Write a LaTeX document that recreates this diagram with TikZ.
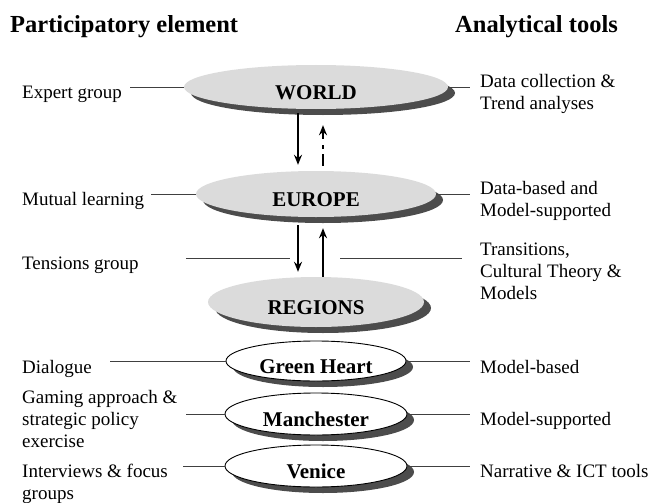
\documentclass[tikz,border=0pt]{standalone}
\usepackage{fontspec}
\setmainfont{Liberation Serif}
\usetikzlibrary{positioning,shapes.geometric,shadows,calc,arrows.meta}

\definecolor{platefill}{gray}{0.86}
\definecolor{platedark}{gray}{0.3}

\tikzset{
  plate/.style={ellipse, inner sep=0pt, fill=platefill,
    text height=25pt, text depth=0pt,
    font=\fontsize{21}{24}\selectfont\bfseries,
    drop shadow={shadow xshift=7pt, shadow yshift=-6pt, fill=platedark, opacity=1}},
  case/.style={plate, fill=white, draw=black, line width=0.9pt},
  lbl/.style={inner sep=0pt, align=left, anchor=base west,
    font=\fontsize{19}{22}\selectfont},
  head/.style={inner sep=0pt, anchor=base west,
    font=\fontsize{24.5}{28}\selectfont\bfseries},
  link/.style={draw=black!75, line width=1pt},
  flow/.style={-{Stealth[length=10pt,width=8pt]}, line width=1.6pt},
}

\begin{document}
\begin{tikzpicture}[x=1pt, y=-1pt, on grid]
\useasboundingbox (0,0) rectangle (653,503);

% column heads
\node[head] (ptitle) at (10,33) {Participatory element};
\node[head] (atitle) at (455,33) {Analytical tools};

% levels
\node[plate, minimum width=264pt, minimum height=44pt] (world) at (316,87) {WORLD};
\node[plate, minimum width=240pt, minimum height=46pt] (europe) [below=107pt of world] {EUROPE};
\node[plate, minimum width=216pt, minimum height=50pt] (regions) [below=108pt of europe] {REGIONS};
\node[case, minimum width=180pt, minimum height=40pt] (green) [below=59pt of regions] {Green Heart};
\node[case, minimum width=182pt, minimum height=42pt] (manch) [below=53pt of green] {Manchester};
\node[case, minimum width=182pt, minimum height=42pt] (venice) [below=52pt of manch] {Venice};

% participatory side (base = last line)
\node[lbl] (expert) at (22,99) {Expert group};
\node[lbl] (mutual) at (22,205) {Mutual learning};
\node[lbl] (tension) at (22,269) {Tensions group};
\node[lbl] (dialog) at (22,373) {Dialogue};
\node[lbl] (gaming) at (22,447) {Gaming approach \&\\strategic policy\\exercise};
\node[lbl] (interv) at (22,499) {Interviews \& focus\\groups};

% analytical side
\node[lbl] (trend) at (480,109) {Data collection \&\\Trend analyses};
\node[lbl] (databased) at (480,216) {Data-based and\\Model-supported};
\node[lbl] (transit) at (480,299) {Transitions,\\Cultural Theory \&\\Models};
\node[lbl] (modbased) at (480,373) {Model-based};
\node[lbl] (modsupp) at (480,425) {Model-supported};
\node[lbl] (narrat) at (480,477) {Narrative \& ICT tools};

% leader lines
\draw[link] (world.west) -- ($(world.west -| expert.east)+(8,0)$);
\draw[link] (world.east) -- ($(world.east -| trend.west)+(-10,0)$);
\draw[link] (europe.west) -- ($(europe.west -| mutual.east)+(7,0)$);
\draw[link] (europe.east) -- ($(europe.east -| databased.west)+(-10,0)$);
\draw[link] (green.west) -- ($(green.west -| dialog.east)+(18,0)$);
\draw[link] (green.east) -- ($(green.east -| modbased.west)+(-10,0)$);
\draw[link] (manch.west) -- ($(manch.west -| gaming.east)+(8,0)$);
\draw[link] (manch.east) -- ($(manch.east -| modsupp.west)+(-10,0)$);
\draw[link] (venice.west) -- ($(venice.west -| interv.east)+(15,0)$);
\draw[link] (venice.east) -- ($(venice.east -| narrat.west)+(-10,0)$);

\coordinate (tl) at (290,258);
\coordinate (tr) at (340,258);
\draw[link] ($(tl -| tension.east)+(47,0)$) -- (tl);
\draw[link] (tr) -- ($(tr -| transit.west)+(-18,0)$);

% top-down and bottom-up
\path[flow]
  ([xshift=-18pt]world.south) edge[shorten <=4pt, shorten >=6pt] ([xshift=-18pt]europe.north)
  ([xshift=7pt]europe.north) edge[shorten <=5pt, shorten >=16pt,
    dash pattern=on 12pt off 5pt on 4pt off 6pt] ([xshift=7pt]world.south)
  ([xshift=-18pt]europe.south) edge[shorten <=8pt, shorten >=5pt] ([xshift=-18pt]regions.north)
  ([xshift=7pt]regions.north) edge[shorten >=11pt] ([xshift=7pt]europe.south);
\end{tikzpicture}
\end{document}
